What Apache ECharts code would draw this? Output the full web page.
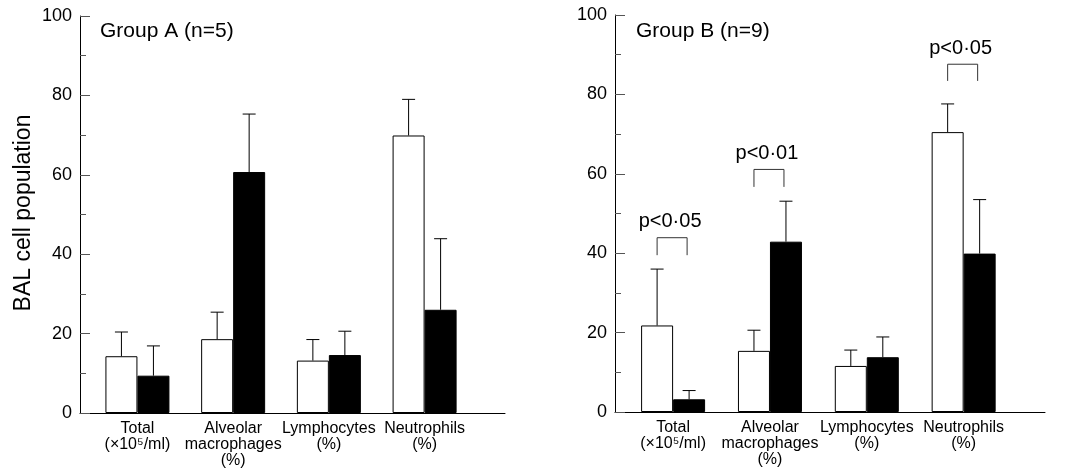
<!DOCTYPE html>
<html>
<head>
<meta charset="utf-8">
<script src="https://cdn.jsdelivr.net/npm/echarts@6/dist/echarts.min.js"></script>
<style>
  body { margin: 0; background: #fff; }
  #chart { width: 1065px; height: 470px; }
</style>
</head>
<body>
<div id="chart"></div>
<script>
// categories and tick values
var cats = ["Total\n(×10⁵/ml)", "Alveolar\nmacrophages\n(%)", "Lymphocytes\n(%)", "Neutrophils\n(%)"]
var yTicks = [0, 20, 40, 60, 80, 100]

// group A (n=5): mean and top of error bar
var aWhite = [14.3, 18.6, 13.2, 69.9]
var aWhiteErr = [20.4, 25.4, 18.5, 79.0]
var aBlack = [9.4, 60.7, 14.6, 26.0]
var aBlackErr = [16.9, 75.3, 20.6, 43.9]

// group B (n=9)
var bWhite = [21.8, 15.4, 11.6, 70.5]
var bWhiteErr = [36.0, 20.6, 15.6, 77.6]
var bBlack = [3.2, 42.9, 13.8, 39.9]
var bBlackErr = [5.4, 53.1, 18.9, 53.5]

// significance brackets in group B
var sigCats = [0, 1, 3]
var sigTop = [43.9, 61.1, 87.6]
var sigLeg = [39.5, 56.7, 83.4]
var sigText = ["p<0·05", "p<0·01", "p<0·05"]

var font = "Liberation Sans, Arial, sans-serif"
var barW = 32

function pairs(vals) {
    var out = []
    for (var i = 0; i < vals.length; i++) out.push([i, vals[i]])
    return out
}

function errData(vals, errs) {
    var out = []
    for (var i = 0; i < vals.length; i++) out.push([i, vals[i], errs[i]])
    return out
}

function errRender(shift) {
    return function(params, api) {
        var p0 = api.coord([api.value(0), api.value(1)])
        var p1 = api.coord([api.value(0), api.value(2)])
        var x = p0[0] + shift
        var st = { stroke: "#000", lineWidth: 1 }
        return {
            type: "group",
            children: [
                { type: "line", shape: { x1: x, y1: p0[1], x2: x, y2: p1[1] }, style: st },
                { type: "line", shape: { x1: x - 6.5, y1: p1[1], x2: x + 6.5, y2: p1[1] }, style: st }
            ]
        }
    }
}

function sigRender(params, api) {
    var i = params.dataIndex
    var top = api.coord([api.value(0), api.value(1)])
    var leg = api.coord([api.value(0), api.value(2)])
    var xl = top[0] - barW / 2
    var xr = top[0] + barW / 2 - 2
    var st = { stroke: "#333", lineWidth: 1, fill: null }
    return {
        type: "group",
        children: [
            { type: "polyline", shape: { points: [[xl, leg[1]], [xl, top[1]], [xr, top[1]], [xr, leg[1]]] }, style: st },
            { type: "text", x: top[0] - 3, y: top[1] - 6, style: { text: sigText[i], fill: "#000", font: "20px " + font, align: "center", verticalAlign: "bottom" } }
        ]
    }
}

function xAxisOpt(idx) {
    return {
        gridIndex: idx,
        type: "value",
        min: -0.6,
        max: 3.84,
        splitLine: { show: false },
        axisTick: { show: false },
        axisLine: { onZero: false, lineStyle: { color: "#000", width: 1 } },
        axisLabel: {
            customValues: [0, 1, 2, 3],
            formatter: function(v) { return cats[Math.round(v)] },
            color: "#000",
            fontFamily: font,
            fontSize: 16,
            lineHeight: 16,
            margin: 8
        }
    }
}

function yAxisOpt(idx) {
    return {
        gridIndex: idx,
        type: "value",
        min: 0,
        max: 100,
        interval: 20,
        splitLine: { show: false },
        axisLine: { show: true, onZero: false, lineStyle: { color: "#000", width: 1 } },
        axisTick: { show: true, inside: true, length: 10, lineStyle: { color: "#555" } },
        minorTick: { show: true, splitNumber: 2, length: 6, lineStyle: { color: "#555" } },
        axisLabel: {
            color: "#000",
            fontFamily: font,
            fontSize: 18,
            margin: 8,
            customValues: yTicks
        }
    }
}

var chart = echarts.init(document.getElementById("chart"))

var whiteStyle = { color: "#fff", borderColor: "#000", borderWidth: 1 }
var blackStyle = { color: "#000", borderColor: "#000", borderWidth: 1 }

var option = {
    animation: false,
    backgroundColor: "#fff",
    grid: [
        { left: 80, top: 16, width: 425, height: 397, outerBoundsMode: "none" },
        { left: 615, top: 15, width: 430, height: 397, outerBoundsMode: "none" }
    ],
    xAxis: [xAxisOpt(0), xAxisOpt(1)],
    yAxis: [yAxisOpt(0), yAxisOpt(1)],
    graphic: [
        { type: "text", left: 100, top: 21, style: { text: "Group A (n=5)", font: "21px " + font, fill: "#000" } },
        { type: "text", left: 636, top: 21, style: { text: "Group B (n=9)", font: "21px " + font, fill: "#000" } },
        { type: "text", x: 24, y: 213, rotation: Math.PI / 2, style: { text: "BAL cell population", font: "23px " + font, fill: "#000", align: "center", verticalAlign: "middle" } }
    ],
    series: [
        { type: "bar", xAxisIndex: 0, yAxisIndex: 0, data: pairs(aWhite), barWidth: barW, barGap: "0%", itemStyle: whiteStyle },
        { type: "bar", xAxisIndex: 0, yAxisIndex: 0, data: pairs(aBlack), barWidth: barW, barGap: "0%", itemStyle: blackStyle },
        { type: "custom", xAxisIndex: 0, yAxisIndex: 0, data: errData(aWhite, aWhiteErr), renderItem: errRender(-barW / 2), z: 3 },
        { type: "custom", xAxisIndex: 0, yAxisIndex: 0, data: errData(aBlack, aBlackErr), renderItem: errRender(barW / 2), z: 3 },
        { type: "bar", xAxisIndex: 1, yAxisIndex: 1, data: pairs(bWhite), barWidth: barW, barGap: "0%", itemStyle: whiteStyle },
        { type: "bar", xAxisIndex: 1, yAxisIndex: 1, data: pairs(bBlack), barWidth: barW, barGap: "0%", itemStyle: blackStyle },
        { type: "custom", xAxisIndex: 1, yAxisIndex: 1, data: errData(bWhite, bWhiteErr), renderItem: errRender(-barW / 2), z: 3 },
        { type: "custom", xAxisIndex: 1, yAxisIndex: 1, data: errData(bBlack, bBlackErr), renderItem: errRender(barW / 2), z: 3 },
        {
            type: "custom", xAxisIndex: 1, yAxisIndex: 1, z: 3,
            data: sigCats.map(function(c, i) { return [c, sigTop[i], sigLeg[i]] }),
            renderItem: sigRender
        }
    ]
}

chart.setOption(option)
</script>
</body>
</html>
